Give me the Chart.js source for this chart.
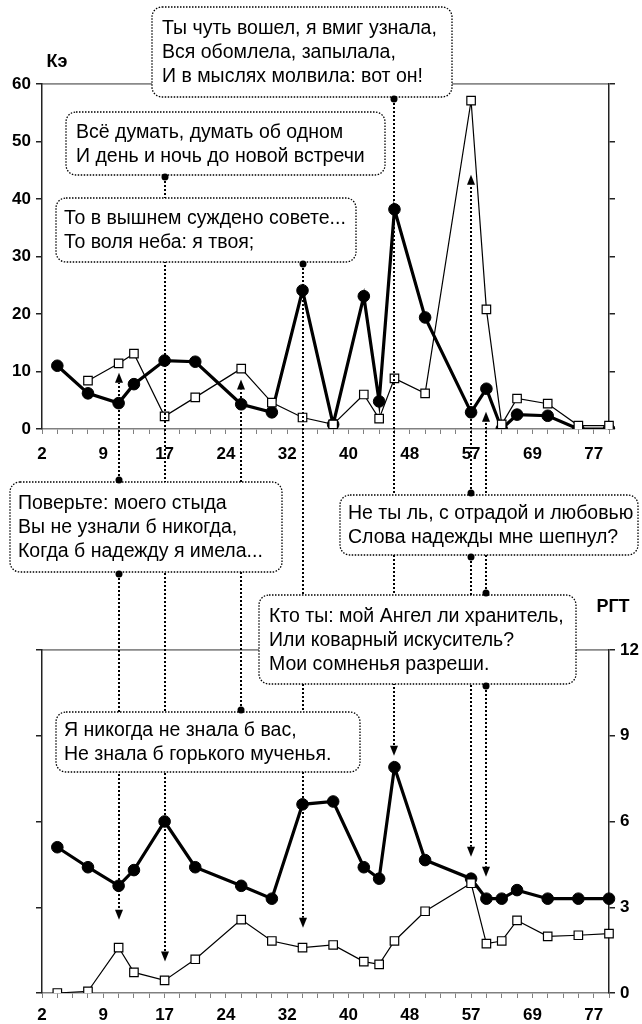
<!DOCTYPE html>
<html><head><meta charset="utf-8">
<script src="https://cdn.jsdelivr.net/npm/chart.js@4.4.0/dist/chart.umd.min.js"></script>
<style>
html,body{margin:0;padding:0;background:#fff;}
#wrap{position:relative;width:642px;height:1024px;overflow:hidden;background:#fff;}
canvas{position:absolute;left:0;}
#cTop{top:0;} #cBot{top:560px;} #cOv{top:0;pointer-events:none;}
</style></head><body>
<div id="wrap">
<canvas id="cTop" width="642" height="470"></canvas>
<canvas id="cBot" width="642" height="464"></canvas>
<canvas id="cOv" width="642" height="1024"></canvas>
</div>
<script>
// ---- data ----
const tickLabels = ['2','9','17','24','32','40','48','57','69','77'];
const categoryCount = 38;            // category slots on the x axis
const pointIdx   = [1,3,5,6,8,10,13,15,17,19,21,22,23,25,28,29,30,31,33,35,37];
const keCircles  = [11,6.2,4.5,7.8,11.9,11.7,4.3,2.9,24.1,0.8,23.1,4.8,38.2,19.4,2.9,7.0,0,2.5,2.3,0,0];
const keSquares  = [null,8.4,11.4,13.1,2.2,5.5,10.5,4.6,2.0,0.8,6.0,1.8,8.8,6.2,57.1,20.8,0.8,5.3,4.4,0.6,0.6];
const rgtCircles = [5.1,4.4,3.75,4.3,6.0,4.4,3.75,3.3,6.6,6.7,4.4,4.0,7.9,4.65,4.0,3.3,3.3,3.6,3.3,3.3,3.3];
const rgtSquares = [0.0,0.06,1.59,0.72,0.44,1.18,2.57,1.82,1.59,1.68,1.10,1.0,1.82,2.86,3.84,1.73,1.82,2.54,1.98,2.02,2.08];

// annotations: text lines, box rect [x1,y1,x2,y2], pointers (category index, box edge, target panel, tip value)
const notes = [
  {lines:['Ты чуть вошел, я вмиг узнала,','Вся обомлела, запылала,','И в мыслях молвила: вот он!'],
   box:[152,7,452,97], tx:162, ptr:[{idx:23, edge:'bottom', panel:'bot', tip:8.3}]},
  {lines:['Всё думать, думать об одном','И день и ночь до новой встречи'],
   box:[66,112,385,175], tx:76, ptr:[{idx:8, edge:'bottom', panel:'bot', tip:1.1}]},
  {lines:['То в вышнем суждено совете...','То воля неба: я твоя;'],
   box:[56,198,356,262], tx:64, ptr:[{idx:17, edge:'bottom', panel:'bot', tip:2.28}]},
  {lines:['Поверьте: моего стыда','Вы не узнали б никогда,','Когда б надежду я имела...'],
   box:[10,482,282,572], tx:18, ptr:[{idx:5, edge:'top', panel:'top', tip:9.8},{idx:5, edge:'bottom', panel:'bot', tip:2.56}]},
  {lines:['Я никогда не знала б вас,','Не знала б горького мученья.'],
   box:[56,712,360,772], tx:64, ptr:[{idx:13, edge:'top', panel:'top', tip:8.6}]},
  {lines:['Не ты ль, с отрадой и любовью','Слова надежды мне шепнул?'],
   box:[340,495,638,555], tx:348, ptr:[{idx:28, edge:'top', panel:'top', tip:44.2},{idx:28, edge:'bottom', panel:'bot', tip:4.77}]},
  {lines:['Кто ты: мой Ангел ли хранитель,','Или коварный искуситель?','Мои сомненья разреши.'],
   box:[259,595,576,684], tx:269, ptr:[{idx:29, edge:'top', panel:'top', tip:3.0},{idx:29, edge:'bottom', panel:'bot', tip:4.07}]}
];

// ---- helpers ----
const FONT = "'Liberation Sans', Arial, sans-serif";
const catLabels = Array.from({length:categoryCount}, (_,i) => (i % 4 === 0 && tickLabels[i/4] !== undefined) ? tickLabels[i/4] : '');
function placed(values){
  const arr = new Array(categoryCount).fill(null);
  pointIdx.forEach((ix,k) => { arr[ix] = values[k]; });
  return arr;
}
const tickFont = {family: FONT, size: 17, weight: 'bold'};

function datasets(circles, squares, axisId){
  return [
    {data: placed(squares), yAxisID: axisId, order: 1, borderColor: '#000', borderWidth: 1.2,
     pointStyle: 'rect', pointRadius: 6, pointBackgroundColor: '#fff', pointBorderColor: '#000',
     pointBorderWidth: 1.2, spanGaps: true, tension: 0, fill: false},
    {data: placed(circles), yAxisID: axisId, order: 2, borderColor: '#000', borderWidth: 3.2,
     pointStyle: 'circle', pointRadius: 5.8, pointBackgroundColor: '#000', pointBorderColor: '#000',
     pointBorderWidth: 1, spanGaps: true, tension: 0, fill: false}
  ];
}
function xScale(h, pad){
  return {type: 'category', offset: false,
    grid: {display: true, drawOnChartArea: false, drawTicks: true, tickLength: 5, color: '#808080', lineWidth: 1},
    border: {display: true, color: '#808080', width: 1.5},
    ticks: {autoSkip: false, maxRotation: 0, minRotation: 0, font: tickFont, color: '#000', padding: pad},
    afterFit(s){ s.height = h; }};
}
function yScale(pos, max, step, labeled, w){
  return {position: pos, min: 0, max: max,
    ticks: {stepSize: step, display: labeled, font: tickFont, color: '#000', padding: 5},
    grid: {drawOnChartArea: true, drawTicks: true, tickLength: 6, lineWidth: 1.5,
      tickColor: '#222',
      color: c => (c.tick && c.tick.value === max) ? '#8a8a8a' : 'rgba(0,0,0,0)'},
    border: {display: true, color: '#222', width: 1.5},
    afterFit(s){ s.width = w; }};
}
const common = {responsive: false, animation: false, events: [],
  plugins: {legend: {display: false}, tooltip: {enabled: false}, title: {display: false}}};

const topChart = new Chart(document.getElementById('cTop'), {
  type: 'line',
  data: {labels: catLabels, datasets: datasets(keCircles, keSquares, 'y')},
  options: Object.assign({}, common, {
    layout: {padding: {top: 84, left: 0, right: 0, bottom: 0}},
    scales: {x: xScale(41, 10), y: yScale('left', 60, 10, true, 42), y2: yScale('right', 60, 10, false, 33)}
  })
});

const OFF = {top: 0, bot: 560};

const overlayPlugin = {
  id: 'overlay',
  afterDraw(botChart){
    const cv = document.getElementById('cOv');
    const g = cv.getContext('2d');
    g.clearRect(0,0,cv.width,cv.height);
    const charts = {top: topChart, bot: botChart};
    const yId = {top: 'y', bot: 'yr'};
    // pointer lines
    const marks = [];
    notes.forEach(n => {
      const [x1,y1,x2,y2] = n.box;
      n.ptr.forEach(p => {
        const ch = charts[p.panel];
        const x = Math.round(ch.scales.x.getPixelForValue(p.idx));
        const yStart = p.edge === 'top' ? y1 - 2 : y2 + 2;
        const yTip = ch.scales[yId[p.panel]].getPixelForValue(p.tip) + OFF[p.panel];
        const dir = yTip > yStart ? 1 : -1;
        const arrowLen = 10;
        g.save();
        g.strokeStyle = '#000'; g.lineWidth = 2; g.setLineDash([2,2]);
        g.beginPath(); g.moveTo(x, yStart); g.lineTo(x, yTip - dir*arrowLen); g.stroke();
        g.restore();
        marks.push({x, yStart, yTip, dir, arrowLen});
      });
    });
    // boxes
    notes.forEach(n => {
      const [x1,y1,x2,y2] = n.box;
      const r = 10;
      g.save();
      g.beginPath();
      g.moveTo(x1+r, y1); g.lineTo(x2-r, y1); g.arcTo(x2, y1, x2, y1+r, r);
      g.lineTo(x2, y2-r); g.arcTo(x2, y2, x2-r, y2, r);
      g.lineTo(x1+r, y2); g.arcTo(x1, y2, x1, y2-r, r);
      g.lineTo(x1, y1+r); g.arcTo(x1, y1, x1+r, y1, r);
      g.closePath();
      g.fillStyle = '#fff'; g.fill();
      g.strokeStyle = '#000'; g.lineWidth = 1.3; g.setLineDash([1.5,1.5]); g.stroke();
      g.restore();
      g.save();
      g.fillStyle = '#000'; g.font = "19.5px " + FONT; g.textBaseline = 'middle'; g.textAlign = 'left';
      const pitch = 24, cy = (y1 + y2) / 2, nL = n.lines.length;
      n.lines.forEach((t,k) => g.fillText(t, n.tx, cy + (k - (nL-1)/2) * pitch + 1));
      g.restore();
    });
    // dots and arrowheads
    marks.forEach(m => {
      g.fillStyle = '#000';
      g.beginPath(); g.arc(m.x, m.yStart, 3.5, 0, Math.PI*2); g.fill();
      g.beginPath();
      g.moveTo(m.x, m.yTip);
      g.lineTo(m.x - 4, m.yTip - m.dir*m.arrowLen);
      g.lineTo(m.x + 4, m.yTip - m.dir*m.arrowLen);
      g.closePath(); g.fill();
    });
    // axis titles
    g.fillStyle = '#000'; g.font = "bold 18px " + FONT; g.textBaseline = 'middle'; g.textAlign = 'center';
    g.fillText('Кэ', 57, 62);
    g.fillText('РГТ', 613, 607);
  }
};

const botChart = new Chart(document.getElementById('cBot'), {
  type: 'line',
  data: {labels: catLabels, datasets: datasets(rgtCircles, rgtSquares, 'yr')},
  options: Object.assign({}, common, {
    layout: {padding: {top: 90, left: 0, right: 0, bottom: 0}},
    scales: {x: xScale(31, 7), yl: yScale('left', 12, 3, false, 42), yr: yScale('right', 12, 3, true, 33)}
  }),
  plugins: [overlayPlugin]
});
</script>
</body></html>
